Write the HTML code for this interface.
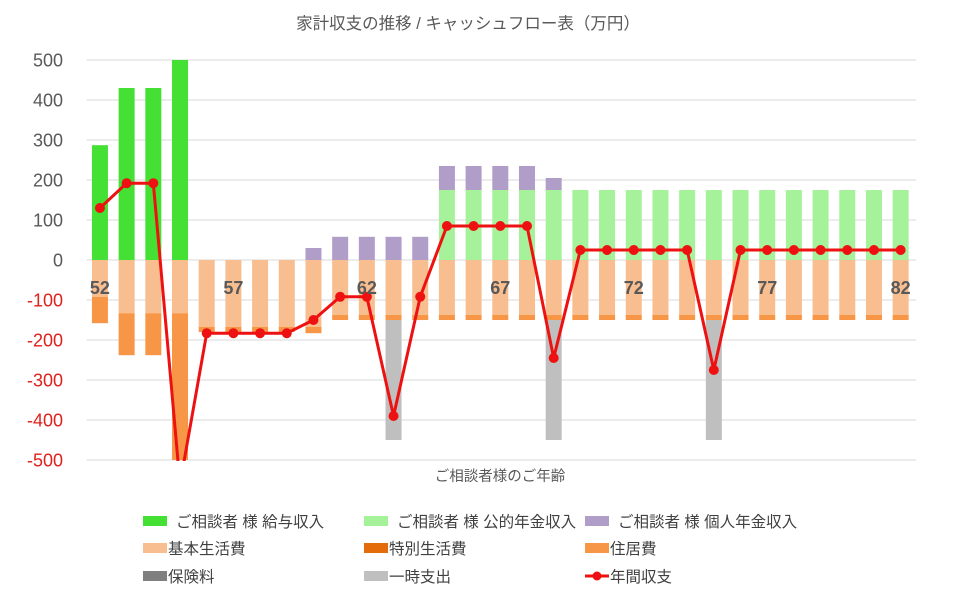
<!DOCTYPE html>
<html><head><meta charset="utf-8"><style>
body{margin:0;background:#fff;width:960px;height:596px;overflow:hidden;font-family:"Liberation Sans","Noto Sans CJK JP",sans-serif}
</style></head><body>
<svg id="chart" width="960" height="596" xmlns="http://www.w3.org/2000/svg" font-family="Liberation Sans, Noto Sans CJK JP, sans-serif">
<defs><clipPath id="plotclip"><rect x="80" y="40" width="850" height="421"/></clipPath></defs>
<text x="468" y="29" text-anchor="middle" font-size="16.5" fill="#595959">家計収支の推移 / キャッシュフロー表（万円）</text>
<g id="grid"></g><g id="bars"></g><g id="line" clip-path="url(#plotclip)"></g><g id="axes"></g>
<text x="500" y="481" text-anchor="middle" font-size="14.5" fill="#595959">ご相談者様のご年齢</text>
<g id="legend"></g>
</svg>
<script>
const ages=[52,53,54,55,56,57,58,59,60,61,62,63,64,65,66,67,68,69,70,71,72,73,74,75,76,77,78,79,80,81,82];
const salary=[287,430,430,520,0,0,0,0,0,0,0,0,0,0,0,0,0,0,0,0,0,0,0,0,0,0,0,0,0,0,0];
const pension=[0,0,0,0,0,0,0,0,0,0,0,0,0,175,175,175,175,175,175,175,175,175,175,175,175,175,175,175,175,175,175];
const privatePension=[0,0,0,0,0,0,0,0,30,58,58,58,58,60,60,60,60,30,0,0,0,0,0,0,0,0,0,0,0,0,0];
const basic=[-92,-133,-133,-133,-167,-167,-167,-167,-167,-137,-137,-137,-137,-137,-137,-137,-137,-137,-137,-137,-137,-137,-137,-137,-137,-137,-137,-137,-137,-137,-137];
const special=[0,0,0,0,0,0,0,0,0,0,0,0,0,0,0,0,0,0,0,0,0,0,0,0,0,0,0,0,0,0,0];
const housing=[-66,-105,-105,-400,-13,-13,-13,-13,-16,-13,-13,-13,-13,-13,-13,-13,-13,-13,-13,-13,-13,-13,-13,-13,-13,-13,-13,-13,-13,-13,-13];
const temp=[0,0,0,0,0,0,0,0,0,0,0,-300,0,0,0,0,0,-300,0,0,0,0,0,-300,0,0,0,0,0,0,0];
const balance=[130,192,192,-560,-183,-183,-183,-183,-150,-92,-92,-390,-92,85,85,85,85,-245,25,25,25,25,25,-275,25,25,25,25,25,25,25];
const yTicks=[500,400,300,200,100,0,-100,-200,-300,-400,-500];
const xLabels=[52,57,62,67,72,77,82];
const NS="http://www.w3.org/2000/svg";
const L=86.6,R=914,band=(R-L)/ages.length,bw=16;
const y=v=>260-Math.max(-500,Math.min(500,v))*0.4;
const yRaw=v=>260-v*0.4;
const x=i=>L+band*(i+0.5);
function mk(tag,attrs,parent){const e=document.createElementNS(NS,tag);for(const k in attrs)e.setAttribute(k,attrs[k]);document.getElementById(parent).appendChild(e);return e;}
yTicks.forEach(t=>{
 const g=mk('line',{x1:L,x2:R+2,y1:y(t),y2:y(t),stroke:'#d9d9d9','stroke-width':1},'grid');
 
 
 const tx=mk('text',{x:63,y:y(t)+6.5,'text-anchor':'end','font-size':18,fill:t<0?'#e0201b':'#595959'},'axes');
 tx.textContent=t;
 
 
});
function stack(series,colors,names){
 ages.forEach((a,i)=>{let acc=0;
  series.forEach((s,k)=>{const v=s[i];if(!v)return;const y0=y(acc),y1=y(acc+v);acc+=v;
   const r=mk('rect',{x:x(i)-bw/2,width:bw,y:Math.min(y0,y1),height:Math.abs(y1-y0),fill:colors[k]},'bars');
   
   
  });
 });
}
stack([salary,pension,privatePension],['#44e034','#a6f29b','#b09ec9'],['salary','public-pension','private-pension']);
stack([basic,special,housing,temp],['#f8be90','#e46c0a','#f79646','#bfbfbf'],['basic-living','special-living','housing','temporary']);
xLabels.forEach(a=>{const i=ages.indexOf(a);
 const t=mk('text',{x:x(i),y:294,'text-anchor':'middle','font-size':18,'font-weight':'bold',fill:'#595959'},'axes');
 t.textContent=a;
 
 
});
const pts=balance.map((v,i)=>x(i)+','+yRaw(v)).join(' ');
const pl=mk('polyline',{points:pts,fill:'none',stroke:'#ee1111','stroke-width':3,'stroke-linejoin':'round'},'line');


balance.forEach((v,i)=>{if(v<-500)return;
 const c=mk('circle',{cx:x(i),cy:y(v),r:5,fill:'#ee1111'},'line');
 
 
});
const leg=[['ご相談者 様 給与収入','#44e034',143,521],['ご相談者 様 公的年金収入','#a6f29b',364,521],['ご相談者 様 個人年金収入','#b09ec9',585,521],
['基本生活費','#f8be90',143,548],['特別生活費','#e46c0a',364,548],['住居費','#f79646',585,548],
['保険料','#7f7f7f',143,576],['一時支出','#bfbfbf',364,576],['年間収支','line',585,576]];
leg.forEach(([name,col,lx,ly])=>{
 const big=(col==='#44e034'||col==='#a6f29b'||col==='#b09ec9');
 if(col==='line'){
  const l=mk('line',{x1:lx,x2:lx+24,y1:ly,y2:ly,stroke:'#ee1111','stroke-width':3},'legend');
  
  
  const c=mk('circle',{cx:lx+12,cy:ly,r:4.5,fill:'#ee1111'},'legend');
  
  
 } else {
  const r=mk('rect',{x:lx,y:ly-5,width:big?24:24,height:10,fill:col},'legend');
  
  
 }
 const t=mk('text',{x:lx+(big?33:25),y:ly+6,'font-size':15.5,fill:'#404040'},'legend');
 t.textContent=name;
 
 
});
</script>
</body></html>
